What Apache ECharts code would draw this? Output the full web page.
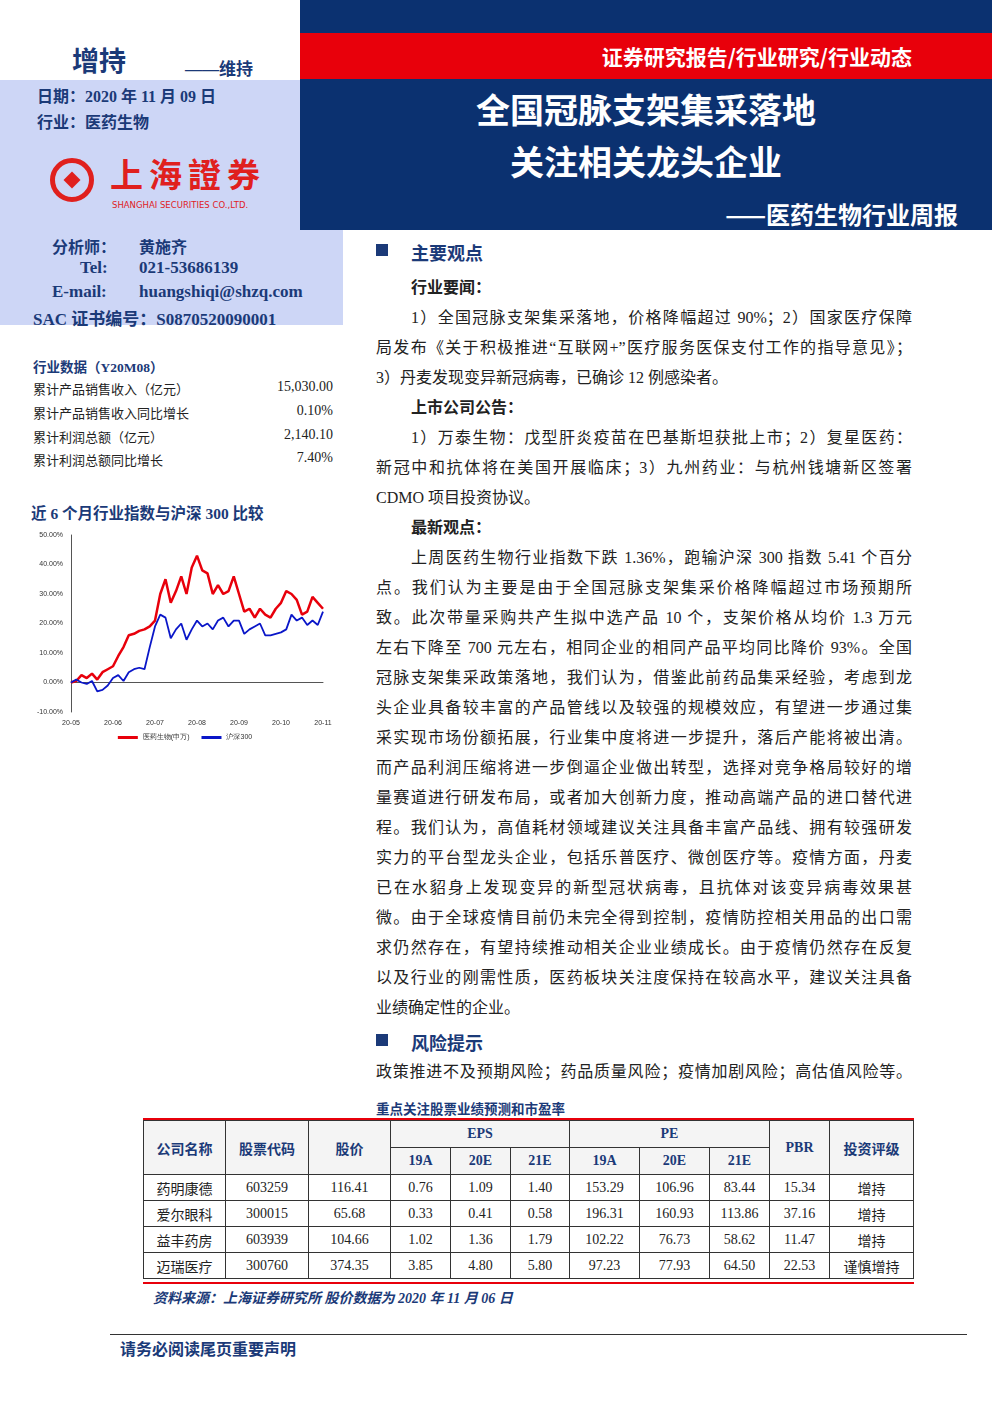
<!DOCTYPE html>
<html><head><meta charset="utf-8">
<script src="https://cdn.jsdelivr.net/npm/echarts@6/dist/echarts.min.js"></script>
<style>
body{margin:0;width:992px;height:1403px;position:relative;background:#fff;font-family:"Liberation Serif","Noto Sans CJK SC",serif;color:#222;overflow:hidden}
.a{position:absolute;white-space:nowrap}
.nv{color:#1b3a78;font-weight:bold}
.ln{position:absolute;left:376px;width:536px;height:30px;line-height:30px;font-size:16px;text-align:justify;text-align-last:justify;white-space:nowrap}
.ln.l{text-align-last:left}
.ln.i{left:411px;width:501px}
table{border-collapse:collapse;position:absolute;left:143px;top:1120px;width:771px;font-size:14px;text-align:center}
td{border:1px solid #333;height:25px;padding:0}
th{border:1px solid #333;font-weight:bold;color:#1b3a78;background:#f4f4f4;height:26px;padding:0}
</style></head><body>
<div class="a" style="left:300px;top:0;width:692px;height:230px;background:#0b3170"></div>
<div class="a" style="left:300px;top:33px;width:692px;height:46px;background:#e8000b"></div>
<div class="a" style="right:80px;top:41px;color:#fff;font-weight:bold;font-size:21px;font-family:'Noto Sans CJK SC'">证券研究报告/行业研究/行业动态</div>
<div class="a" style="left:300px;width:692px;top:84px;text-align:center;color:#fff;font-weight:bold;font-size:34px;font-family:'Noto Sans CJK SC'">全国冠脉支架集采落地</div>
<div class="a" style="left:300px;width:692px;top:136px;text-align:center;color:#fff;font-weight:bold;font-size:34px;font-family:'Noto Sans CJK SC'">关注相关龙头企业</div>
<div class="a" style="right:34px;top:196px;color:#fff;font-weight:bold;font-size:24px;font-family:'Noto Sans CJK SC'">——医药生物行业周报</div>
<div class="a" style="left:0;top:80px;width:300px;height:150px;background:#cdd6f6"></div>
<div class="a" style="left:0;top:230px;width:343px;height:95px;background:#cdd6f6"></div>
<div class="a nv" style="left:72px;top:40px;font-size:27px">增持</div>
<div class="a nv" style="left:185px;top:55px;font-size:17px">——维持</div>
<div class="a nv" style="left:37px;top:83px;font-size:16px">日期：2020 年 11 月 09 日</div>
<div class="a nv" style="left:37px;top:109px;font-size:16px">行业：医药生物</div>
<div class="a" style="left:50px;top:158px;width:44px;height:44px;border:5px solid #e0201e;border-radius:50%;box-sizing:border-box"></div>
<div class="a" style="left:66px;top:174px;width:12px;height:12px;background:#e0201e;transform:rotate(45deg)"></div>
<div class="a" style="left:110px;top:156px;height:34px;line-height:34px;color:#e0201e;font-weight:bold;font-size:33px;letter-spacing:6px;font-family:'Noto Sans CJK TC'">上海證券</div>
<div class="a" style="left:112px;top:200px;line-height:10px;color:#e0201e;font-size:8.5px;font-family:'DejaVu Sans'">SHANGHAI SECURITIES CO.,LTD.</div>
<div class="a nv" style="left:52px;top:234px;font-size:16px">分析师：</div>
<div class="a nv" style="left:139px;top:234px;font-size:16px">黄施齐</div>
<div class="a nv" style="left:80px;top:258px;font-size:17px">Tel:</div>
<div class="a nv" style="left:139px;top:258px;font-size:17px">021-53686139</div>
<div class="a nv" style="left:52px;top:282px;font-size:17px">E-mail:</div>
<div class="a nv" style="left:139px;top:282px;font-size:17px">huangshiqi@shzq.com</div>
<div class="a nv" style="left:33px;top:305px;font-size:17px">SAC 证书编号：S0870520090001</div>
<div class="a nv" style="left:33px;top:356px;font-size:13.5px">行业数据（Y20M08）</div>
<div class="a" style="left:33px;top:379px;font-size:13px">累计产品销售收入（亿元）</div><div class="a" style="right:659px;top:379px;font-size:14px">15,030.00</div>
<div class="a" style="left:33px;top:403px;font-size:13px">累计产品销售收入同比增长</div><div class="a" style="right:659px;top:403px;font-size:14px">0.10%</div>
<div class="a" style="left:33px;top:427px;font-size:13px">累计利润总额（亿元）</div><div class="a" style="right:659px;top:427px;font-size:14px">2,140.10</div>
<div class="a" style="left:33px;top:450px;font-size:13px">累计利润总额同比增长</div><div class="a" style="right:659px;top:450px;font-size:14px">7.40%</div>
<div class="a nv" style="left:31px;top:501px;font-size:15.5px">近 6 个月行业指数与沪深 300 比较</div>
<div id="chart" class="a" style="left:25px;top:525px;width:320px;height:225px"></div>
<div class="a" style="left:376px;top:244px;width:12px;height:12px;background:#1b3a78"></div>
<div class="a nv" style="left:411px;top:239px;font-size:18px">主要观点</div>
<div class="ln l i" style="top:273px;font-weight:bold">行业要闻：</div>
<div class="ln i" style="top:303px">1）全国冠脉支架集采落地，价格降幅超过 90%；2）国家医疗保障</div>
<div class="ln" style="top:333px">局发布《关于积极推进“互联网+”医疗服务医保支付工作的指导意见》；</div>
<div class="ln l" style="top:363px">3）丹麦发现变异新冠病毒，已确诊 12 例感染者。</div>
<div class="ln l i" style="top:393px;font-weight:bold">上市公司公告：</div>
<div class="ln i" style="top:423px">1）万泰生物：戊型肝炎疫苗在巴基斯坦获批上市；2）复星医药：</div>
<div class="ln" style="top:453px">新冠中和抗体将在美国开展临床；3）九州药业：与杭州钱塘新区签署</div>
<div class="ln l" style="top:483px">CDMO 项目投资协议。</div>
<div class="ln l i" style="top:513px;font-weight:bold">最新观点：</div>
<div class="ln i" style="top:543px">上周医药生物行业指数下跌 1.36%，跑输沪深 300 指数 5.41 个百分</div>
<div class="ln" style="top:573px">点。我们认为主要是由于全国冠脉支架集采价格降幅超过市场预期所</div>
<div class="ln" style="top:603px">致。此次带量采购共产生拟中选产品 10 个，支架价格从均价 1.3 万元</div>
<div class="ln" style="top:633px">左右下降至 700 元左右，相同企业的相同产品平均同比降价 93%。全国</div>
<div class="ln" style="top:663px">冠脉支架集采政策落地，我们认为，借鉴此前药品集采经验，考虑到龙</div>
<div class="ln" style="top:693px">头企业具备较丰富的产品管线以及较强的规模效应，有望进一步通过集</div>
<div class="ln" style="top:723px">采实现市场份额拓展，行业集中度将进一步提升，落后产能将被出清。</div>
<div class="ln" style="top:753px">而产品利润压缩将进一步倒逼企业做出转型，选择对竞争格局较好的增</div>
<div class="ln" style="top:783px">量赛道进行研发布局，或者加大创新力度，推动高端产品的进口替代进</div>
<div class="ln" style="top:813px">程。我们认为，高值耗材领域建议关注具备丰富产品线、拥有较强研发</div>
<div class="ln" style="top:843px">实力的平台型龙头企业，包括乐普医疗、微创医疗等。疫情方面，丹麦</div>
<div class="ln" style="top:873px">已在水貂身上发现变异的新型冠状病毒，且抗体对该变异病毒效果甚</div>
<div class="ln" style="top:903px">微。由于全球疫情目前仍未完全得到控制，疫情防控相关用品的出口需</div>
<div class="ln" style="top:933px">求仍然存在，有望持续推动相关企业业绩成长。由于疫情仍然存在反复</div>
<div class="ln" style="top:963px">以及行业的刚需性质，医药板块关注度保持在较高水平，建议关注具备</div>
<div class="ln l" style="top:993px">业绩确定性的企业。</div>
<div class="a" style="left:376px;top:1034px;width:12px;height:12px;background:#1b3a78"></div>
<div class="a nv" style="left:411px;top:1029px;font-size:18px">风险提示</div>
<div class="ln" style="top:1057px">政策推进不及预期风险；药品质量风险；疫情加剧风险；高估值风险等。</div>
<div class="a nv" style="left:376px;top:1098px;font-size:13.5px">重点关注股票业绩预测和市盈率</div>
<div class="a" style="left:143px;top:1118px;width:771px;height:2px;background:#e8000b"></div>
<table>
<tr><th rowspan="2" style="width:81px">公司名称</th><th rowspan="2" style="width:82px">股票代码</th><th rowspan="2" style="width:81px">股价</th><th colspan="3">EPS</th><th colspan="3">PE</th><th rowspan="2" style="width:59px">PBR</th><th rowspan="2">投资评级</th></tr>
<tr><th style="width:59px">19A</th><th style="width:59px">20E</th><th style="width:58px">21E</th><th style="width:69px">19A</th><th style="width:69px">20E</th><th style="width:59px">21E</th></tr>
<tr><td>药明康德</td><td>603259</td><td>116.41</td><td>0.76</td><td>1.09</td><td>1.40</td><td>153.29</td><td>106.96</td><td>83.44</td><td>15.34</td><td>增持</td></tr>
<tr><td>爱尔眼科</td><td>300015</td><td>65.68</td><td>0.33</td><td>0.41</td><td>0.58</td><td>196.31</td><td>160.93</td><td>113.86</td><td>37.16</td><td>增持</td></tr>
<tr><td>益丰药房</td><td>603939</td><td>104.66</td><td>1.02</td><td>1.36</td><td>1.79</td><td>102.22</td><td>76.73</td><td>58.62</td><td>11.47</td><td>增持</td></tr>
<tr><td>迈瑞医疗</td><td>300760</td><td>374.35</td><td>3.85</td><td>4.80</td><td>5.80</td><td>97.23</td><td>77.93</td><td>64.50</td><td>22.53</td><td>谨慎增持</td></tr>
</table>
<div class="a" style="left:143px;top:1282px;width:771px;height:2px;background:#e8000b"></div>
<div class="a nv" style="left:153px;top:1287px;font-size:14px;font-style:italic">资料来源：上海证券研究所 股价数据为 2020 年 11 月 06 日</div>
<div class="a" style="left:110px;top:1334px;width:857px;height:1px;background:#333"></div>
<div class="a nv" style="left:120px;top:1336px;font-size:16px">请务必阅读尾页重要声明</div>
<script>
const monthTicks=['20-05','20-06','20-07','20-08','20-09','20-10','20-11'];
const medSeries=[0,0.5,2.5,1.5,3,1,3.5,4.5, 5.5,9,12,16,16.5,17.5,18,19, 21,30,35,27,31,36,30,39, 43,38,37,30,33,30,31,36, 30,24,25,22,25,23,22,25, 27,31,30,28,23,24,29,27, 25];
const hs300Series=[0,1,0,-0.5,0.5,-3,-2.5,-1, 1.5,2.5,0.5,3.5,4.5,5,4.5,12, 19,23,22,15,18,20,14.5,18, 21,19,20,18,21,22,19,21, 21,16.5,18,19,20,16,16,16.5, 17,18,23,21,22,19.5,21,19.5, 24];
const seriesNames=['医药生物(申万)','沪深300'];
const cats=medSeries.map((_,i)=>i%8===0?monthTicks[i/8]:monthTicks[Math.floor(i/8)]+'-'+(i%8));
const c=echarts.init(document.getElementById('chart'));
c.setOption({animation:false,
grid:{left:46,right:22,top:10,bottom:38},
legend:{bottom:4,left:'center',itemWidth:20,itemHeight:3,icon:'rect',itemGap:12,textStyle:{fontSize:7,color:'#333'},data:seriesNames},
xAxis:{type:'category',data:cats,boundaryGap:false,axisLine:{lineStyle:{color:'#555'}},axisTick:{show:false},
 axisLabel:{interval:7,fontSize:7,color:'#333',fontFamily:'Liberation Sans',formatter:v=>v.length===5?v:''}},
yAxis:{type:'value',min:-10,max:50,interval:10,axisLine:{show:true,lineStyle:{color:'#555'}},splitLine:{show:false},
 axisLabel:{fontSize:7,color:'#333',fontFamily:'Liberation Sans',formatter:v=>v.toFixed(2)+'%'}},
series:[{name:seriesNames[0],type:'line',data:medSeries,symbol:'none',lineStyle:{color:'#e8000b',width:2.5},itemStyle:{color:'#e8000b'}},
{name:seriesNames[1],type:'line',data:hs300Series,symbol:'none',lineStyle:{color:'#0a16c8',width:1.8},itemStyle:{color:'#0a16c8'}}]});
</script>
</body></html>
